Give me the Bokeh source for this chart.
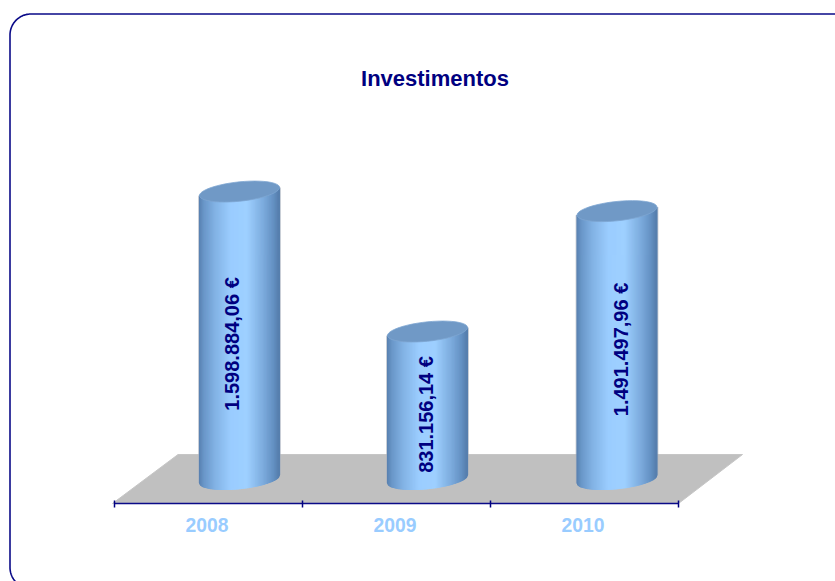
import math
from bokeh.embed import file_html
from bokeh.resources import INLINE
from bokeh.plotting import figure
from bokeh.models import Range1d, LinearAxis, FixedTicker, Label
from bokeh.core.properties import value

years = ["2008", "2009", "2010"]
investments = [1598884.06, 831156.14, 1491497.96]
value_labels = ["1.598.884,06 €", "831.156,14 €", "1.491.497,96 €"]
title_text = "Investimentos"

NAVY = "#000080"
W, H = 835, 581
CAT_PX = 188.0        # px per category
X0_PX = 114.0         # page x of category 0
UNIT = 1 / 1.8235e-4  # value per px
Y0_PX = 482.6         # page y of value 0

xr = Range1d(-X0_PX / CAT_PX, (W - X0_PX) / CAT_PX)
yr = Range1d((Y0_PX - H) * UNIT, Y0_PX * UNIT)


def X(px):
    return (px - X0_PX) / CAT_PX


def Y(py):
    return (Y0_PX - py) * UNIT


p = figure(width=W, height=H, x_range=xr, y_range=yr, output_backend="svg",
           toolbar_location=None, min_border=0, outline_line_color=None,
           x_axis_type=None, y_axis_type=None, background_fill_color="white")
p.grid.visible = False

# rounded chart frame (corner centres, start angle in screen space)
L, T, R, B, rad = 9.5, 13.5, 880.0, 588.0, 21.0
fx, fy = [], []
for cx, cy, a0 in [(L + rad, B - rad, 90), (L + rad, T + rad, 180), (R - rad, T + rad, 270)]:
    for i in range(25):
        t = math.radians(a0 + i * 90 / 24)
        fx.append(cx + rad * math.cos(t))
        fy.append(cy + rad * math.sin(t))
p.line([X(v) for v in fx], [Y(v) for v in fy], line_color="#0a0a88", line_width=1.6)

# floor
p.patch([X(112), X(177.5), X(742), X(678)], [Y(503), Y(454), Y(454), Y(503)],
        fill_color="#c0c0c0", line_color="#c6c6c6", line_width=1)

# cylinders
HALF_W, B_H, TILT = 40.0, 9.7, -0.1
DEPTH_PX = 31.0
BAR_NUDGE = [0.0, 0.0, 1.5]
BASE_PY = 478.5
STRIPS = 80
LABEL_DX = [-8.0, -1.5, 4.0]
LABEL_DY = [8.7, 9.2, 4.4]


def shade(u):
    stops = [(0.0, (88, 128, 175)), (0.06, (105, 150, 200)), (0.2, (130, 178, 228)),
             (0.4, (155, 205, 255)), (0.6, (158, 208, 255)), (0.8, (125, 172, 222)),
             (0.93, (100, 145, 195)), (1.0, (85, 125, 172))]
    for (a, ca), (b, cb) in zip(stops, stops[1:]):
        if u <= b:
            f = (u - a) / (b - a)
            return "#%02x%02x%02x" % tuple(round(ca[i] + (cb[i] - ca[i]) * f) for i in range(3))
    return "#557dac"


def low(dx, cy, hw=HALF_W):
    return cy + TILT * dx + B_H * math.sqrt(max(0, 1 - (dx / hw) ** 2))


xs, ys, cols = [], [], []
top_xs, top_ys = [], []
back_xs, back_ys = [], []
centres = []
for i, v in enumerate(investments):
    cx = X0_PX + (i + 0.5) * CAT_PX + DEPTH_PX + BAR_NUDGE[i]
    centres.append(cx)
    top_py = Y0_PX - v / UNIT
    for s in range(STRIPS):
        d0 = -HALF_W + 2 * HALF_W * s / STRIPS
        d1 = -HALF_W + 2 * HALF_W * (s + 1) / STRIPS
        xs.append([X(cx + d0), X(cx + d1), X(cx + d1), X(cx + d0)])
        ys.append([Y(low(d0, top_py)), Y(low(d1, top_py)), Y(low(d1, BASE_PY)), Y(low(d0, BASE_PY))])
        cols.append(shade((s + 0.5) / STRIPS))
    hw = HALF_W + 1.5
    back_xs.append([X(cx - hw), X(cx + hw), X(cx + hw), X(cx - hw)])
    back_ys.append([Y(low(-hw, top_py, hw)), Y(low(hw, top_py, hw)), Y(low(hw, BASE_PY, hw)), Y(low(-hw, BASE_PY, hw))])
    n = 48
    ang = [2 * math.pi * k / n for k in range(n)]
    top_xs.append([X(cx + HALF_W * math.cos(t)) for t in ang])
    top_ys.append([Y(top_py + TILT * HALF_W * math.cos(t) + B_H * math.sin(t)) for t in ang])

p.patches(back_xs, back_ys, fill_color="#b4b8c0", fill_alpha=0.55, line_color=None)
p.patches(xs, ys, fill_color=cols, line_color=cols, line_width=1.2)
p.patches(top_xs, top_ys, fill_color="#7099c6", line_color="#7ea6d2", line_width=0.8)

# value labels
lab_x = [X(centres[i] + LABEL_DX[i]) for i in range(3)]
lab_y = [(v + (Y0_PX - BASE_PY) * UNIT) / 2 - LABEL_DY[i] * UNIT for i, v in enumerate(investments)]
p.text(lab_x, lab_y, text=value_labels, angle=math.pi / 2, text_align="center",
       text_baseline="middle", text_color=NAVY, text_font=value("Liberation Sans"),
       text_font_style="bold", text_font_size="20px")

# title
p.add_layout(Label(x=X(434.5), y=Y(78), text=title_text, text_align="center",
                   text_baseline="middle", text_color=NAVY,
                   text_font="Liberation Sans", text_font_style="bold",
                   text_font_size="22px"))

# category axis
label_ticks = [i + 0.5 - 1.5 / CAT_PX for i in range(3)]
axis = LinearAxis(fixed_location=Y(503), bounds=(0, 3))
axis.ticker = FixedTicker(ticks=label_ticks, minor_ticks=[0, 1, 2, 3])
axis.major_label_overrides = dict(zip(label_ticks, years))
axis.major_tick_in = 0
axis.major_tick_out = 0
axis.minor_tick_in = 3
axis.minor_tick_out = 4
axis.minor_tick_line_color = NAVY
axis.minor_tick_line_width = 1.5
axis.axis_line_color = "#0a0a88"
axis.axis_line_width = 1.7
axis.major_label_standoff = 10
axis.major_label_text_color = "#99ccff"
axis.major_label_text_font = "Liberation Sans"
axis.major_label_text_font_style = "bold"
axis.major_label_text_font_size = "19.3px"
p.add_layout(axis, "below")

open("out.html", "w").write(file_html(p, INLINE))
